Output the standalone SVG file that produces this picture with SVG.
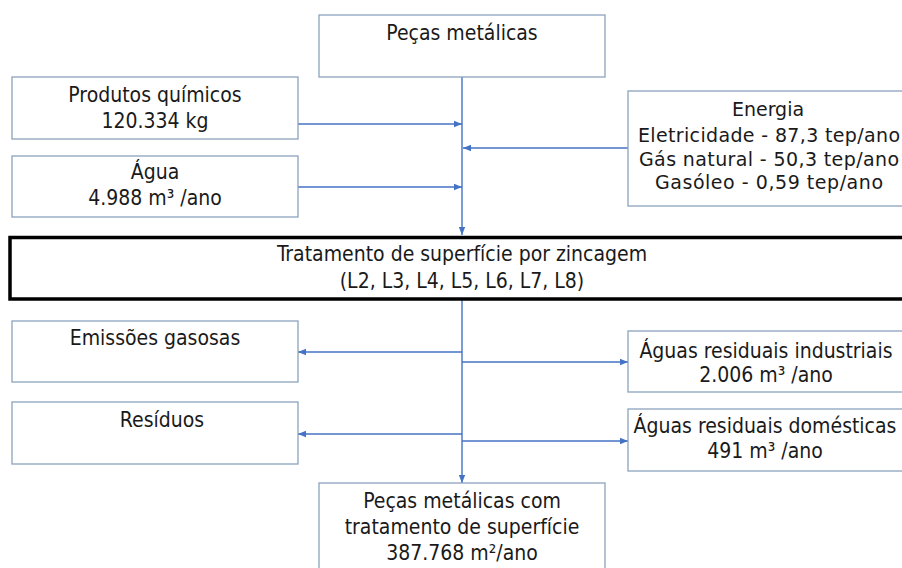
<svg xmlns="http://www.w3.org/2000/svg" width="902" height="568" viewBox="0 0 902 568">
<style>
  .box { fill: #ffffff; stroke: #8ba3bd; stroke-width: 1.3; }
  .main { fill: #ffffff; stroke: #000000; stroke-width: 3.5; }
  .t { font-family: "DejaVu Sans Condensed", "DejaVu Sans", sans-serif; font-size: 21px; fill: #1a1a1a; text-anchor: middle; }
  .e { font-family: "DejaVu Sans", sans-serif; font-size: 19px; fill: #1a1a1a; text-anchor: middle; }
  .c { fill: none; stroke: #4472c4; stroke-width: 1.4; }
</style>
<defs>
  <marker id="ah" viewBox="0 0 10 10" refX="10" refY="5" markerWidth="8" markerHeight="8" markerUnits="userSpaceOnUse" orient="auto">
    <path d="M0,1 L10,5 L0,9 z" fill="#4472c4"/>
  </marker>
</defs>
<rect width="902" height="568" fill="#ffffff"/>

<g id="connectors">
  <line class="c" x1="462" y1="77" x2="462" y2="235" marker-end="url(#ah)"/>
  <line class="c" x1="298" y1="124" x2="462" y2="124" marker-end="url(#ah)"/>
  <line class="c" x1="298" y1="187" x2="462" y2="187" marker-end="url(#ah)"/>
  <line class="c" x1="628" y1="148" x2="463" y2="148" marker-end="url(#ah)"/>
  <line class="c" x1="462" y1="299" x2="462" y2="483" marker-end="url(#ah)"/>
  <line class="c" x1="462" y1="352" x2="298" y2="352" marker-end="url(#ah)"/>
  <line class="c" x1="462" y1="434" x2="298" y2="434" marker-end="url(#ah)"/>
  <line class="c" x1="462" y1="362" x2="628" y2="362" marker-end="url(#ah)"/>
  <line class="c" x1="462" y1="441" x2="628" y2="441" marker-end="url(#ah)"/>
</g>

<g id="pecas-metalicas">
  <rect class="box" x="319" y="15" width="286" height="62"/>
  <text class="t" x="462" y="40">Peças metálicas</text>
</g>

<g id="produtos-quimicos">
  <rect class="box" x="12" y="77" width="286" height="62"/>
  <text class="t" x="155" y="102">Produtos químicos</text>
  <text class="t" x="155" y="128">120.334 kg</text>
</g>

<g id="agua">
  <rect class="box" x="12" y="156" width="286" height="61"/>
  <text class="t" x="155" y="179">Água</text>
  <text class="t" x="155" y="205">4.988 m³ /ano</text>
</g>

<g id="energia">
  <rect class="box" x="628" y="91" width="284" height="115"/>
  <text class="e" x="768" y="116">Energia</text>
  <text class="e" x="769" y="142" textLength="262" lengthAdjust="spacing">Eletricidade - 87,3 tep/ano</text>
  <text class="e" x="769" y="166" textLength="260" lengthAdjust="spacing">Gás natural - 50,3 tep/ano</text>
  <text class="e" x="769" y="189" textLength="228" lengthAdjust="spacing">Gasóleo - 0,59 tep/ano</text>
</g>

<g id="tratamento">
  <rect class="main" x="10" y="237.5" width="906" height="61.5"/>
  <text class="t" x="462" y="261">Tratamento de superfície por zincagem</text>
  <text class="t" x="462" y="288">(L2, L3, L4, L5, L6, L7, L8)</text>
</g>

<g id="emissoes-gasosas">
  <rect class="box" x="12" y="321" width="286" height="61"/>
  <text class="t" x="155" y="345">Emissões gasosas</text>
</g>

<g id="residuos">
  <rect class="box" x="12" y="402" width="286" height="62"/>
  <text class="t" x="162" y="427">Resíduos</text>
</g>

<g id="aguas-industriais">
  <rect class="box" x="628" y="331" width="284" height="61"/>
  <text class="t" x="766" y="358">Águas residuais industriais</text>
  <text class="t" x="766" y="382">2.006 m³ /ano</text>
</g>

<g id="aguas-domesticas">
  <rect class="box" x="628" y="409" width="284" height="62"/>
  <text class="t" x="765" y="433">Águas residuais domésticas</text>
  <text class="t" x="765" y="458">491 m³ /ano</text>
</g>

<g id="pecas-tratadas">
  <rect class="box" x="319" y="483" width="286" height="100"/>
  <text class="t" x="462" y="508">Peças metálicas com</text>
  <text class="t" x="462" y="534">tratamento de superfície</text>
  <text class="t" x="462" y="560">387.768 m²/ano</text>
</g>
</svg>
